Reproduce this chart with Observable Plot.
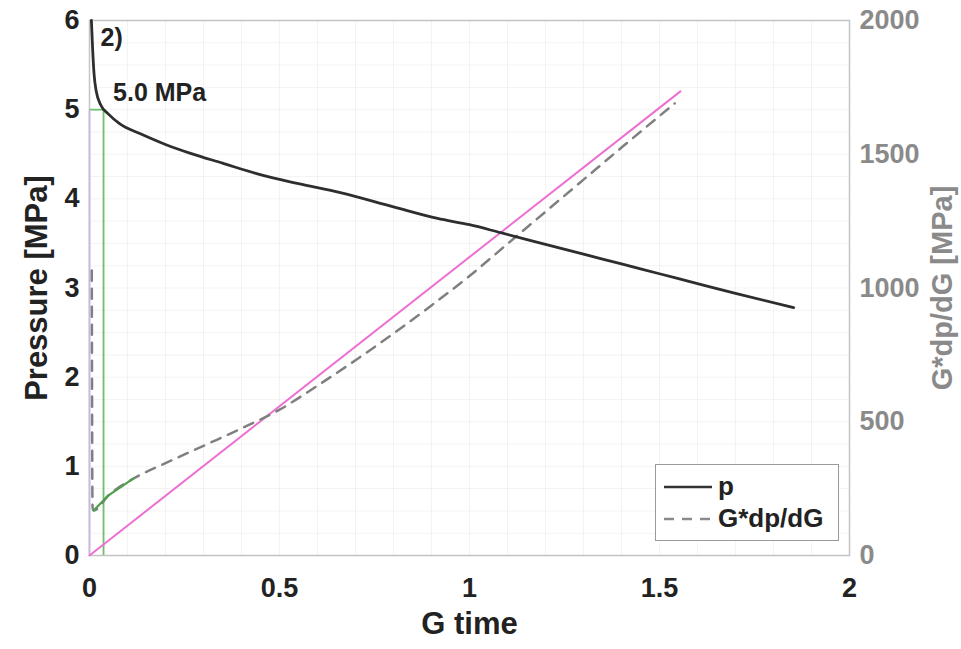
<!DOCTYPE html>
<html>
<head>
<meta charset="utf-8">
<script src="https://cdn.jsdelivr.net/npm/d3@7"></script>
<script src="https://cdn.jsdelivr.net/npm/@observablehq/plot@0.6"></script>
<style>
  body { margin: 0; background: #fff; font-family: "Liberation Sans", Arial, sans-serif; }
  #wrap { position: relative; width: 961px; height: 649px; overflow: hidden; }
  #legend { position: absolute; left: 655px; top: 464px; width: 182px; height: 75px;
    border: 1.5px solid #9a9a9a; background: #fff; box-sizing: content-box;
    font-weight: bold; font-size: 26px; color: #222; }
  .row { position: absolute; left: 8px; display: flex; align-items: center; }
  .row span { margin-left: 6px; }
</style>
</head>
<body>
<div id="wrap"><div id="chart"></div>
<div id="legend">
  <div class="row" style="top:6px"><svg width="48" height="20"><line x1="0" y1="10" x2="48" y2="10" stroke="#333" stroke-width="2.5"/></svg><span>p</span></div>
  <div class="row" style="top:38px"><svg width="48" height="20"><line x1="0" y1="10" x2="48" y2="10" stroke="#8a8a8a" stroke-width="2.5" stroke-dasharray="10,8"/></svg><span>G*dp/dG</span></div>
</div>
</div>
<script>
// Pressure curve p (MPa) vs G time
const pG = [0.005, 0.008, 0.012, 0.018, 0.03, 0.05, 0.08, 0.134, 0.2, 0.266, 0.35, 0.442, 0.55, 0.66, 0.8, 0.916, 1.0, 1.082, 1.2, 1.3, 1.4, 1.5, 1.6, 1.7, 1.853];
const pVal = [6.0, 5.7, 5.4, 5.2, 5.05, 4.95, 4.84, 4.73, 4.61, 4.51, 4.40, 4.28, 4.17, 4.07, 3.91, 3.78, 3.71, 3.62, 3.49, 3.38, 3.27, 3.16, 3.05, 2.94, 2.78];

// G*dp/dG (MPa, right axis)
const dG = [0.006, 0.008, 0.011, 0.05, 0.116, 0.2, 0.3, 0.4, 0.5, 0.6, 0.7, 0.8, 0.9, 1.0, 1.1, 1.2, 1.3, 1.4, 1.54];
const dVal = [1065, 180, 168, 225, 288, 345, 410, 475, 545, 635, 730, 830, 935, 1045, 1165, 1285, 1405, 1525, 1690];

// Green highlighted early section of G*dp/dG
const greenG = [0.011, 0.05, 0.116];
const greenVal = [168, 225, 288];

// Magenta straight-line tangent (right axis)
const magG = [0, 1.555];
const magVal = [0, 1735];

// Closure pressure marker
const closureG = 0.037;
const closureP = 5.0;

const xTicks = [0, 0.5, 1, 1.5, 2];
const yTicks = [0, 1, 2, 3, 4, 5, 6];
const rightTicks = [0, 500, 1000, 1500, 2000];
const rightMax = 2000, leftMax = 6;

const annotations = [
  {x: 0.029, y: 5.71, text: "2)"},
  {x: 0.062, y: 5.1, text: "5.0 MPa"}
];

const toLeft = v => v * leftMax / rightMax;
const pData = pG.map((g, i) => ({g, v: pVal[i]}));
const dData = dG.map((g, i) => ({g, v: toLeft(dVal[i])}));
const greenData = greenG.map((g, i) => ({g, v: toLeft(greenVal[i])}));
const magData = magG.map((g, i) => ({g, v: toLeft(magVal[i])}));

const gridX = d3.range(0, 2.0001, 0.1);
const gridY = d3.range(0, 6.0001, 0.25);

const font = '"Liberation Sans", Arial, sans-serif';

const chart = Plot.plot({
  width: 961, height: 649,
  marginLeft: 89, marginRight: 112, marginTop: 20, marginBottom: 94,
  style: {fontFamily: font, background: "#fff"},
  x: {domain: [0, 2]},
  y: {domain: [0, 6]},
  marks: [
    Plot.gridX(gridX, {stroke: "#d8d8d8", strokeOpacity: 0.3}),
    Plot.gridY(gridY, {stroke: "#d8d8d8", strokeOpacity: 0.3}),
    Plot.frame({stroke: "#c4c4c4", strokeWidth: 1.5}),
    Plot.axisX({ticks: xTicks, tickSize: 0, tickPadding: 22, fontSize: 27, fontWeight: "bold", fill: "#222", label: null, tickFormat: d => String(d)}),
    Plot.axisY({ticks: yTicks, tickSize: 0, tickPadding: 10, fontSize: 27, fontWeight: "bold", fill: "#222", label: null, tickFormat: d => String(d)}),
    Plot.axisY({anchor: "right", ticks: rightTicks.map(toLeft), tickSize: 0, tickPadding: 10, fontSize: 27, fontWeight: "bold", fill: "#8a8a8a", label: null,
      tickFormat: d => String(Math.round(d * rightMax / leftMax))}),
    // closure markers
    Plot.ruleY([closureP], {x1: 0, x2: closureG, stroke: "#6fbf6f", strokeWidth: 1.8}),
    Plot.ruleX([0], {y1: 0, y2: closureP, stroke: "#cbb8e0", strokeWidth: 1.8}),
    Plot.ruleX([closureG], {y1: 0, y2: closureP, stroke: "#6fbf6f", strokeWidth: 1.8}),
    Plot.line(magData, {x: "g", y: "v", stroke: "#ee6fd2", strokeWidth: 2}),
    Plot.line(dData, {x: "g", y: "v", stroke: "#808080", strokeWidth: 2.5, strokeDasharray: "10,8", curve: "monotone-x"}),
    Plot.line(greenData, {x: "g", y: "v", stroke: "#4e9e4e", strokeWidth: 2.2}),
    Plot.line(pData, {x: "g", y: "v", stroke: "#2e2e2e", strokeWidth: 2.8, curve: "monotone-x"}),
    Plot.text(annotations, {x: "x", y: "y", text: "text", textAnchor: "start", lineAnchor: "bottom", fontSize: 25, fontWeight: "bold", fill: "#222"}),
    Plot.text(["Pressure [MPa]"], {text: d => d, frameAnchor: "left", dx: -52, rotate: -90, textAnchor: "middle", lineAnchor: "middle", fontSize: 31, fontWeight: "bold", fill: "#222"}),
    Plot.text(["G*dp/dG [MPa]"], {text: d => d, frameAnchor: "right", dx: 93, rotate: -90, textAnchor: "middle", lineAnchor: "middle", fontSize: 29, fontWeight: "bold", fill: "#8a8a8a"}),
    Plot.text(["G time"], {text: d => d, frameAnchor: "bottom", dy: 69, textAnchor: "middle", lineAnchor: "middle", fontSize: 31, fontWeight: "bold", fill: "#222"})
  ]
});
document.getElementById("chart").appendChild(chart);
</script>
</body>
</html>
